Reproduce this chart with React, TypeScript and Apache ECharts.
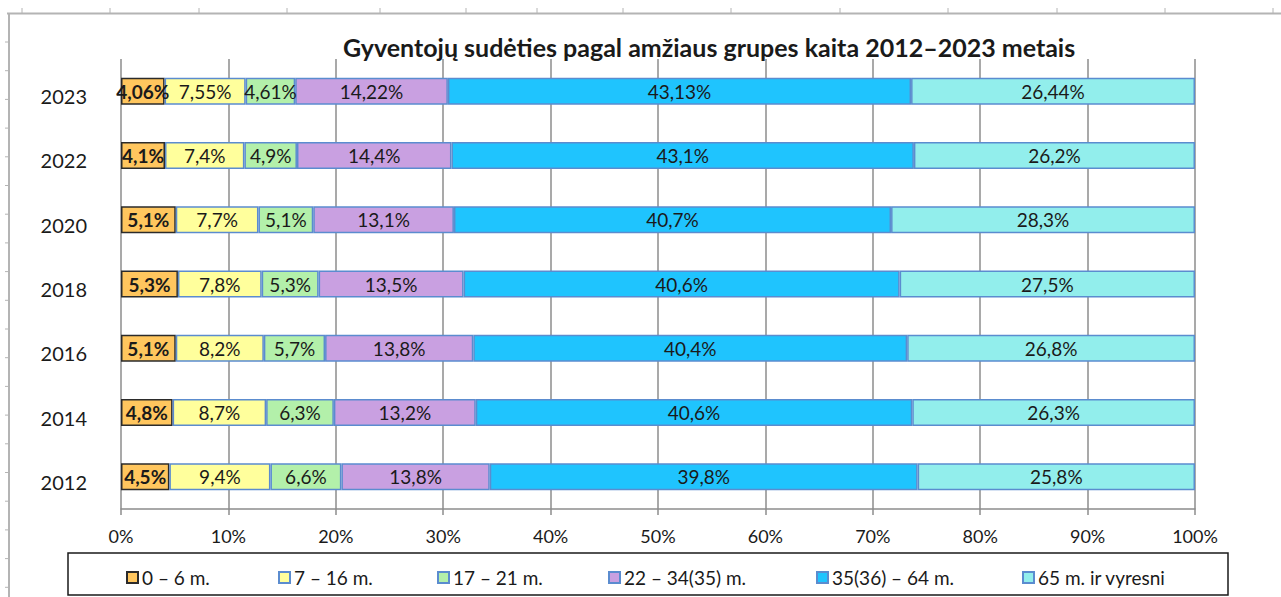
import React, { useEffect, useRef } from "react";
import * as echarts from "echarts";

const years = ["2012", "2014", "2016", "2018", "2020", "2022", "2023"];
const groupNames = ["0 – 6 m.", "7 – 16 m.", "17 – 21 m.", "22 – 34(35) m.", "35(36) – 64 m.", "65 m. ir vyresni"];
const age0to6 = [4.5, 4.8, 5.1, 5.3, 5.1, 4.1, 4.06];
const age7to16 = [9.4, 8.7, 8.2, 7.8, 7.7, 7.4, 7.55];
const age17to21 = [6.6, 6.3, 5.7, 5.3, 5.1, 4.9, 4.61];
const age22to34 = [13.8, 13.2, 13.8, 13.5, 13.1, 14.4, 14.22];
const age35to64 = [39.8, 40.6, 40.4, 40.6, 40.7, 43.1, 43.13];
const age65plus = [25.8, 26.3, 26.8, 27.5, 28.3, 26.2, 26.44];
const groupValues = [age0to6, age7to16, age17to21, age22to34, age35to64, age65plus];

const groupColors = ["#FFC65E", "#FFFF9C", "#B3F0AA", "#C9A0E1", "#1FC4FE", "#92EEEC"];
const groupBorders = ["#2b2b2b", "#5B8CCF", "#5B8CCF", "#5B8CCF", "#5B8CCF", "#5B8CCF"];
const legendLeft = [126, 278, 437, 608, 816, 1022];

const FONT = "Lato, 'Noto Sans', sans-serif";

export default function App() {
  const ref = useRef<HTMLDivElement>(null);
  useEffect(() => {
    document.body.style.margin = "0";
    const chart = echarts.init(ref.current!, null, { renderer: "svg" });
    const rowSums = years.map((_, i) => groupValues.reduce((s, arr) => s + arr[i], 0));
    const fmt = (v: number) => String(v).replace(".", ",") + "%";

    const series = groupNames.map((name, gi) => ({
      name,
      type: "bar",
      stack: "total",
      barWidth: 27,
      data: groupValues[gi].map((v, i) => (v / rowSums[i]) * 100),
      itemStyle: { color: groupColors[gi], borderColor: groupBorders[gi], borderWidth: 1.5 },
      label: {
        show: true,
        position: "inside",
        color: "#1a1a1a",
        fontFamily: FONT,
        fontSize: 19,
        fontWeight: gi === 0 ? "bold" : "normal",
        formatter: (p: any) => fmt(groupValues[gi][p.dataIndex]),
      },
      emphasis: { disabled: true },
    }));

    const topTicks = [22, 110, 199, 287, 380, 466, 537, 623, 731, 840, 948, 1057, 1165, 1273];
    const leftTicks: number[] = [];
    for (let k = 0; k < 20; k++) leftTicks.push(42 + k * 28.7);
    const frameColor = "#b4b4b4";
    const graphics: any[] = [
      { type: "line", shape: { x1: 7, y1: 13.5, x2: 1281, y2: 13.5 }, style: { stroke: frameColor, lineWidth: 2 }, silent: true },
      { type: "line", shape: { x1: 9, y1: 13, x2: 9, y2: 597 }, style: { stroke: frameColor, lineWidth: 2 }, silent: true },
      ...topTicks.map((x) => ({ type: "line", shape: { x1: x, y1: 8, x2: x, y2: 13 }, style: { stroke: frameColor, lineWidth: 1 }, silent: true })),
      ...leftTicks.map((y) => ({ type: "line", shape: { x1: 5, y1: y, x2: 9, y2: y }, style: { stroke: frameColor, lineWidth: 1 }, silent: true })),
      { type: "rect", shape: { x: 68, y: 553, width: 1160, height: 42 }, style: { fill: "none", stroke: "#1a1a1a", lineWidth: 1.5 }, silent: true },
    ];

    chart.setOption({
      animation: false,
      backgroundColor: "#ffffff",
      title: {
        text: "Gyventojų sudėties pagal amžiaus grupes kaita 2012–2023 metais",
        left: 338,
        top: 29,
        textStyle: { fontFamily: FONT, fontSize: 25, fontWeight: "bold", color: "#1a1a1a" },
      },
      grid: { left: 121, right: 86, top: 59, bottom: 88, containLabel: false },
      xAxis: {
        type: "value",
        min: 0,
        max: 100,
        interval: 10,
        axisLine: { show: true, lineStyle: { color: "#8c8c8c", width: 1.5 } },
        axisTick: { show: true, length: 6, lineStyle: { color: "#8c8c8c", width: 1.5 } },
        splitLine: { show: true, lineStyle: { color: "#8c8c8c", width: 1.5 } },
        axisLabel: { formatter: "{value}%", fontFamily: FONT, fontSize: 18, color: "#1a1a1a", margin: 18 },
      },
      yAxis: {
        type: "category",
        data: years,
        axisLine: { show: false },
        axisTick: { show: false },
        axisLabel: {
          fontFamily: FONT,
          fontSize: 20,
          color: "#1a1a1a",
          margin: 34,
          verticalAlign: "top",
          lineHeight: 10,
        },
      },
      legend: groupNames.map((name, gi) => ({
        data: [name],
        left: legendLeft[gi],
        top: 568,
        itemWidth: 11,
        itemHeight: 11,
        itemGap: 4,
        icon: "rect",
        selectedMode: false,
        textStyle: { fontFamily: FONT, fontSize: 19, color: "#1a1a1a", padding: [0, 0, 0, -1] },
        padding: 0,
      })),
      graphic: graphics,
      series,
    });
    return () => chart.dispose();
  }, []);
  return <div ref={ref} style={{ width: 1281, height: 597 }} />;
}
